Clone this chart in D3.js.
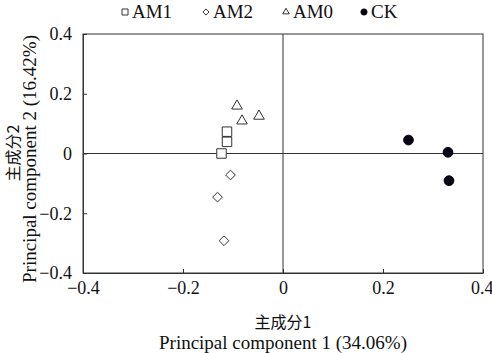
<!DOCTYPE html>
<html>
<head>
<meta charset="utf-8">
<script src="https://cdn.jsdelivr.net/npm/d3@7"></script>
<style>
body { margin: 0; background: #fff; }
text { font-family: "Liberation Serif", "Times New Roman", serif; fill: #111; }
.cjk { font-family: "Noto Sans CJK SC", sans-serif; }
</style>
</head>
<body>
<script>
// groups and scores
var groups = ["AM1", "AM2", "AM0", "CK"];
var symbols = ["square", "diamond", "triangle", "circle"];
var pc1 = [
    [-0.112, -0.112, -0.123],
    [-0.105, -0.131, -0.118],
    [-0.092, -0.082, -0.048],
    [0.251, 0.330, 0.332]
];
var pc2 = [
    [0.073, 0.039, 0.000],
    [-0.072, -0.146, -0.292],
    [0.159, 0.109, 0.125],
    [0.045, 0.004, -0.091]
];
var ticks = [-0.4, -0.2, 0, 0.2, 0.4];

var W = 492, H = 353;
var margin = { top: 34, right: 9, bottom: 80, left: 83 };
var width = W - margin.left - margin.right;
var height = H - margin.top - margin.bottom;

var svg = d3.select("body").append("svg")
    .attr("width", W)
    .attr("height", H);

var g = svg.append("g")
    .attr("transform", "translate(" + margin.left + "," + margin.top + ")");

var x = d3.scaleLinear().domain([-0.4, 0.4]).range([0, width]);
var y = d3.scaleLinear().domain([-0.4, 0.4]).range([height, 0]);

function fmt(d) {
    if (d === 0) return "0";
    return (d < 0 ? "\u2212" : "") + Math.abs(d).toFixed(1);
}

var lineColor = "#333";

// frame
g.append("rect")
    .attr("width", width)
    .attr("height", height)
    .attr("fill", "none")
    .attr("stroke", lineColor)
    .attr("stroke-width", 1);

// zero lines
g.append("line")
    .attr("x1", x(0)).attr("x2", x(0))
    .attr("y1", 0).attr("y2", height)
    .attr("stroke", lineColor);
g.append("line")
    .attr("x1", 0).attr("x2", width)
    .attr("y1", y(0)).attr("y2", y(0))
    .attr("stroke", lineColor);

// axes with inward ticks
var xAxis = d3.axisBottom(x).tickValues(ticks).tickFormat(fmt).tickSizeInner(-4).tickSizeOuter(0).tickPadding(8);
var yAxis = d3.axisLeft(y).tickValues(ticks).tickFormat(fmt).tickSizeInner(-4).tickSizeOuter(0).tickPadding(11);

var gx = g.append("g").attr("transform", "translate(0," + height + ")").call(xAxis);
var gy = g.append("g").call(yAxis);
[gx, gy].forEach(function (a) {
    a.attr("font-size", null).attr("font-family", null);
    a.select(".domain").attr("stroke", lineColor);
    a.selectAll(".tick line").attr("stroke", lineColor);
    a.selectAll(".tick text")
        .style("font-family", '"Liberation Serif", serif')
        .style("font-size", "18px")
        .attr("fill", "#111");
});
// last x label sits against the right edge
gx.selectAll(".tick text").filter(function (d) { return d === 0.4; })
    .attr("text-anchor", "end")
    .attr("dx", "10px");

// points
var sizes = { square: 90, diamond: 60, triangle: 80, circle: 75 };
groups.forEach(function (grp, gi) {
    var sym = symbols[gi];
    var type = sym === "square" ? d3.symbolSquare : sym === "diamond" ? d3.symbolDiamond2 : sym === "triangle" ? d3.symbolTriangle2 : d3.symbolCircle;
    var pts = pc1[gi].map(function (v, i) { return [v, pc2[gi][i]]; });
    g.selectAll(".pt" + gi)
        .data(pts)
        .enter()
        .append("path")
        .attr("d", d3.symbol().type(type).size(sizes[sym]))
        .attr("transform", function (d) { return "translate(" + x(d[0]) + "," + y(d[1]) + ")"; })
        .attr("fill", sym === "circle" ? "#0a0512" : "#fff")
        .attr("stroke", sym === "circle" ? "#0a0512" : "#333")
        .attr("stroke-width", 1);
});

// legend
var legX = [125, 206, 286, 364];
var legSize = { square: 36, diamond: 24, triangle: 30, circle: 30 };
groups.forEach(function (grp, gi) {
    var sym = symbols[gi];
    var type = sym === "square" ? d3.symbolSquare : sym === "diamond" ? d3.symbolDiamond2 : sym === "triangle" ? d3.symbolTriangle2 : d3.symbolCircle;
    svg.append("path")
        .attr("d", d3.symbol().type(type).size(legSize[sym]))
        .attr("transform", "translate(" + legX[gi] + ",12)")
        .attr("fill", sym === "circle" ? "#0a0512" : "#fff")
        .attr("stroke", sym === "circle" ? "#0a0512" : "#333");
    svg.append("text")
        .attr("x", legX[gi] + 7)
        .attr("y", 18)
        .style("font-size", "19px")
        .text(grp);
});

// axis titles
svg.append("text")
    .attr("class", "cjk")
    .attr("x", margin.left + width / 2)
    .attr("y", 328)
    .attr("text-anchor", "middle")
    .style("font-size", "16px")
    .text("主成分1");
svg.append("text")
    .attr("x", margin.left + width / 2)
    .attr("y", 349)
    .attr("text-anchor", "middle")
    .style("font-size", "19px")
    .text("Principal component 1 (34.06%)");

svg.append("text")
    .attr("class", "cjk")
    .attr("transform", "translate(19,153) rotate(-90)")
    .attr("text-anchor", "middle")
    .style("font-size", "16px")
    .text("主成分2");
svg.append("text")
    .attr("transform", "translate(36,159) rotate(-90)")
    .attr("text-anchor", "middle")
    .style("font-size", "19px")
    .text("Principal component 2 (16.42%)");
</script>
</body>
</html>
